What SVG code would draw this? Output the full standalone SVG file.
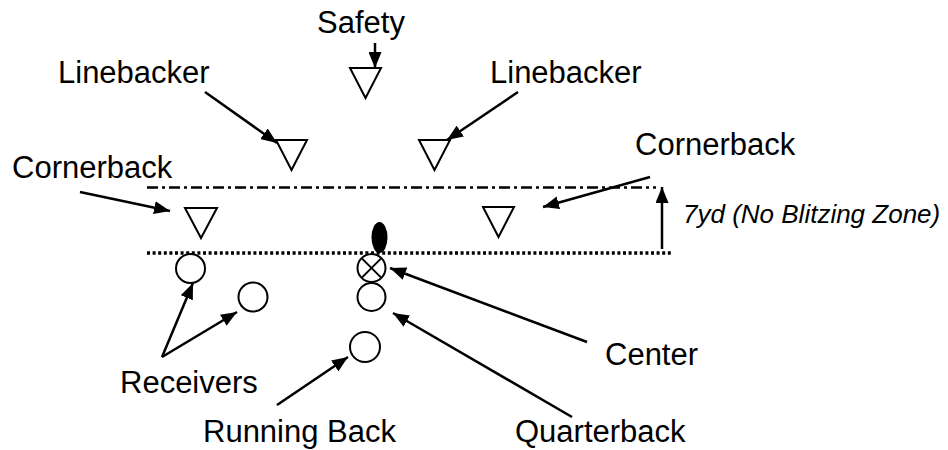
<svg xmlns="http://www.w3.org/2000/svg" width="948" height="450" viewBox="0 0 948 450">
<style>
.lbl{font-family:"Liberation Sans",Arial,sans-serif;font-size:31px;fill:#000}
.note{font-family:"Liberation Sans",Arial,sans-serif;font-size:26px;font-style:italic;fill:#000}
.tri{fill:#fff;stroke:#000;stroke-width:2}
.ply{fill:#fff;stroke:#000;stroke-width:2}
.con{stroke:#000;stroke-width:2.5;fill:none;marker-end:url(#ah)}
</style>
<defs>
<marker id="ah" markerUnits="userSpaceOnUse" markerWidth="17" markerHeight="13" refX="16" refY="6.5" orient="auto">
<path d="M0,0 L16,6.5 L0,13 z" fill="#000"/>
</marker>
</defs>
<rect width="948" height="450" fill="#fff"/>
<g id="lines">
<line x1="147" y1="187.5" x2="656" y2="187.5" stroke="#000" stroke-width="2.5" stroke-dasharray="11 4 3 4"/>
<line x1="147" y1="253" x2="673" y2="253" stroke="#000" stroke-width="3.5" stroke-dasharray="3 2.6"/>
</g>
<g id="safety"><polygon class="tri" points="350,68 381,68 365.5,98"/><text class="lbl" x="317" y="33">Safety</text></g>
<g id="lb-left"><polygon class="tri" points="276,140 307,140 291.5,170"/><text class="lbl" x="58" y="83">Linebacker</text></g>
<g id="lb-right"><polygon class="tri" points="419,140 450,140 434.5,170"/><text class="lbl" x="490" y="83">Linebacker</text></g>
<g id="cb-left"><polygon class="tri" points="185,208 217,208 201,238"/><text class="lbl" x="12" y="178">Cornerback</text></g>
<g id="cb-right"><polygon class="tri" points="483,207 514,207 498.5,237"/><text class="lbl" x="635" y="155">Cornerback</text></g>
<g id="ball"><ellipse cx="379.5" cy="237.5" rx="8" ry="15.5" fill="#000"/></g>
<g id="center"><circle class="ply" cx="371.5" cy="268" r="14"/><line x1="361.6" y1="258.1" x2="381.4" y2="277.9" stroke="#000" stroke-width="2"/><line x1="381.4" y1="258.1" x2="361.6" y2="277.9" stroke="#000" stroke-width="2"/><text class="lbl" x="605" y="365">Center</text></g>
<g id="quarterback"><circle class="ply" cx="371.5" cy="297" r="14"/><text class="lbl" x="515" y="442">Quarterback</text></g>
<g id="receiver1"><circle class="ply" cx="190.5" cy="268.5" r="14.5"/></g>
<g id="receiver2"><circle class="ply" cx="253" cy="297" r="14.5"/></g>
<g id="receivers-label"><text class="lbl" x="120" y="393">Receivers</text></g>
<g id="runningback"><circle class="ply" cx="365" cy="347" r="15"/><text class="lbl" x="203" y="442">Running Back</text></g>
<g id="zone-note"><text class="note" x="683" y="223">7yd (No Blitzing Zone)</text></g>
<g id="connectors">
<line class="con" x1="375" y1="43" x2="375" y2="68"/>
<line class="con" x1="205" y1="92" x2="277" y2="143"/>
<line class="con" x1="518" y1="92" x2="447" y2="140"/>
<line class="con" x1="80" y1="192" x2="170" y2="211"/>
<line class="con" x1="650" y1="177" x2="543" y2="207"/>
<line class="con" x1="662" y1="249" x2="662" y2="187"/>
<line class="con" x1="162" y1="357" x2="193" y2="283"/>
<line class="con" x1="162" y1="357" x2="237" y2="312"/>
<line class="con" x1="277" y1="405" x2="348" y2="357"/>
<line class="con" x1="587" y1="342" x2="390" y2="268"/>
<line class="con" x1="572" y1="417" x2="393" y2="313"/>
</g>
</svg>
